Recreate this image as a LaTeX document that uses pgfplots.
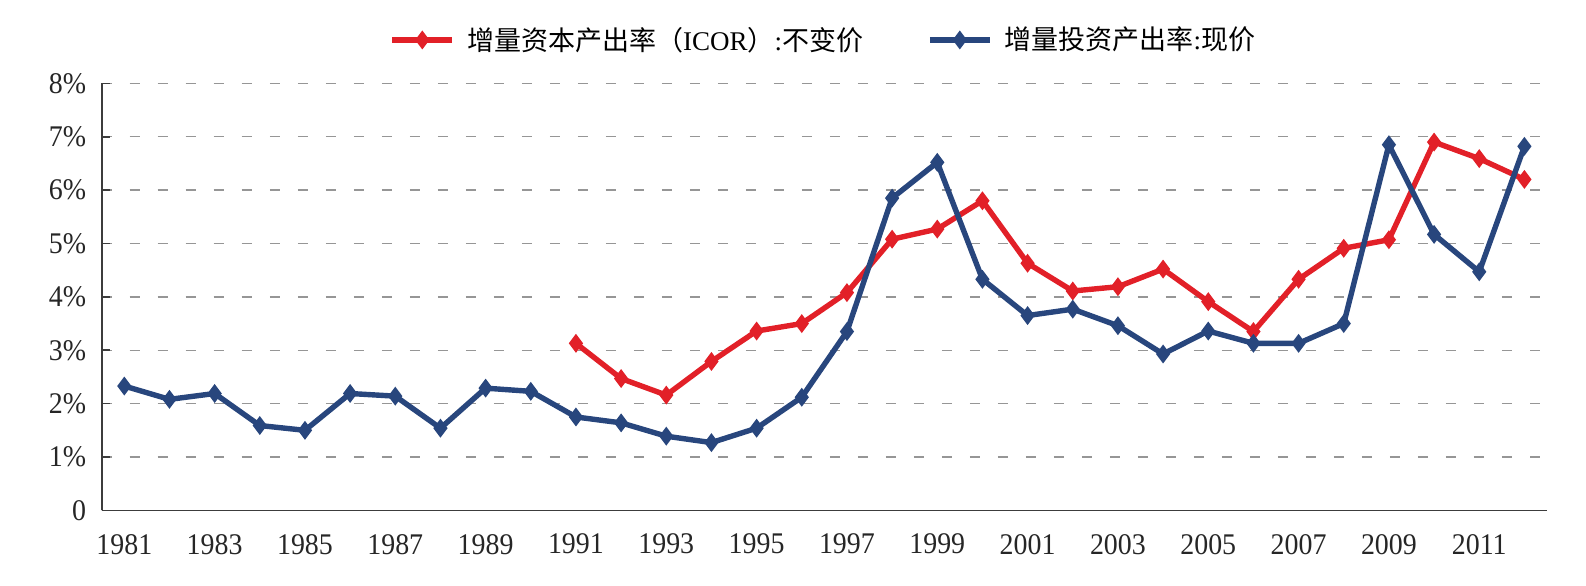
\documentclass[border=0pt]{standalone}
\usepackage{pgfplots}
\pgfplotsset{compat=1.18}
\usetikzlibrary{calc}
\usepackage{fontspec}
\setmainfont{Liberation Serif}
\newfontfamily\tickfont[FakeStretch=0.93]{Liberation Serif}
\newfontfamily\cjk{Noto Sans CJK SC}
\definecolor{cred}{RGB}{226,32,40}
\definecolor{cblue}{RGB}{40,70,125}
\definecolor{cgrid}{RGB}{150,150,150}
\definecolor{caxis}{RGB}{60,60,60}
\begin{document}
\begin{tikzpicture}
\begin{axis}[
  name=ax,
  at={(0,0)}, anchor=south west,
  scale only axis,
  width=722.5pt, height=213.5pt,
  xmin=1980.5, xmax=2012.5,
  ymin=0, ymax=8,
  axis x line*=bottom, axis y line*=left,
  axis line style={caxis, line width=0.8pt, -},
  xtick={1981,1983,...,2011},
  xticklabels={1981,1983,1985,1987,1989,1991,1993,1995,1997,1999,2001,2003,2005,2007,2009,2011},
  minor xtick={1982.5,1984.5,...,2012.5},
  xtick style={draw=none},
  minor tick length=4pt,
  major tick length=4pt,
  tick align=inside,
  tick style={caxis, line width=0.8pt},
  minor tick style={caxis, line width=0.8pt},
  ytick={0,1,...,8},
  yticklabels={0,1\%,2\%,3\%,4\%,5\%,6\%,7\%,8\%},
  ymajorgrids,
  grid style={cgrid, line width=0.7pt, dash pattern=on 5pt off 9pt},
  ticklabel style={font=\tickfont\fontsize{15}{17}\selectfont, text=black!85},
  xticklabel style={yshift=-8.3pt},
  yticklabel style={xshift=-4.3pt},
  legend columns=2,
  legend style={at={(0.5,1.1016)}, anchor=center, draw=none, fill=none,
    font=\fontsize{13.5}{16}\selectfont,
    /tikz/every even column/.append style={column sep=30pt}},
  legend cell align=left,
  legend image code/.code={\draw[mark repeat=2,mark phase=2,#1] plot coordinates {(0pt,0pt) (15pt,0pt) (30pt,0pt)};},
]
\addplot[cred, line width=2.7pt, mark=diamond*, mark size=2.5pt, mark options={solid}] coordinates {
(1991,3.13) (1992,2.47) (1993,2.16) (1994,2.79) (1995,3.36) (1996,3.50)
(1997,4.08) (1998,5.08) (1999,5.27) (2000,5.80) (2001,4.63) (2002,4.11)
(2003,4.19) (2004,4.52) (2005,3.91) (2006,3.35) (2007,4.33) (2008,4.91)
(2009,5.07) (2010,6.90) (2011,6.59) (2012,6.20)
};
\addlegendentry{\hspace{4pt}{\cjk 增量资本产出率（}ICOR{\cjk ）}:{\cjk 不变价}}
\addplot[cblue, line width=2.7pt, mark=diamond*, mark size=2.5pt, mark options={solid}] coordinates {
(1981,2.33) (1982,2.08) (1983,2.19) (1984,1.59) (1985,1.50) (1986,2.19)
(1987,2.14) (1988,1.54) (1989,2.29) (1990,2.23) (1991,1.75) (1992,1.64)
(1993,1.39) (1994,1.27) (1995,1.54) (1996,2.12) (1997,3.35) (1998,5.85)
(1999,6.52) (2000,4.33) (2001,3.65) (2002,3.77) (2003,3.46) (2004,2.93)
(2005,3.36) (2006,3.13) (2007,3.13) (2008,3.50) (2009,6.85) (2010,5.17)
(2011,4.47) (2012,6.82)
};
\addlegendentry{\hspace{4pt}{\cjk 增量投资产出率}:{\cjk 现价}}
\end{axis}
\pgfresetboundingbox
\path[use as bounding box] ($(ax.south west)+(-50.85pt,-37.5pt)$) rectangle ($(ax.south west)+(742pt,255.15pt)$);
\end{tikzpicture}
\end{document}
